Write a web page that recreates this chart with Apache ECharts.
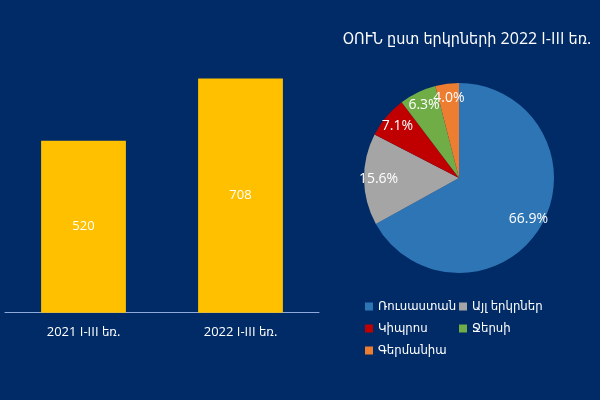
<!DOCTYPE html>
<html><head><meta charset="utf-8">
<script src="https://cdn.jsdelivr.net/npm/echarts@6/dist/echarts.min.js"></script>
<style>html,body{margin:0;padding:0;background:#002b66;}#c{width:600px;height:400px;}</style>
</head><body><div id="c"></div>
<script>
var barCategories = ['2021 I-III եռ.', '2022 I-III եռ.'];
var barValues = [520, 708];
var pieTitle = 'ՕՈՒՆ ըստ երկրների 2022 I-III եռ.';
var pieNames = ['Ռուսաստան', 'Այլ երկրներ', 'Կիպրոս', 'Ջերսի', 'Գերմանիա'];
var pieValues = [66.9, 15.6, 7.1, 6.3, 4.0];
var pieColors = ['#2e75b6', '#a5a5a5', '#c00000', '#70ad47', '#ed7d31'];

var FONT = '"Open Sans", "DejaVu Sans Condensed", "DejaVu Sans", sans-serif';
var pieData = pieNames.map(function (n, i) { return { name: n, value: pieValues[i], itemStyle: { color: pieColors[i] } }; });
var labelData = pieNames.map(function (n, i) { return { name: n, value: pieValues[i] }; });

var chart = echarts.init(document.getElementById('c'));
chart.setOption({
  backgroundColor: '#002b66',
  animation: false,
  title: {
    text: pieTitle, left: 462, top: 26, textAlign: 'center',
    textStyle: { color: '#ffffff', fontSize: 16, fontWeight: 'normal', fontFamily: FONT }
  },
  legend: [
    { data: [pieNames[0], pieNames[2], pieNames[4]], orient: 'vertical', left: 360, top: 295, itemWidth: 8, itemHeight: 8, itemGap: 9, icon: 'rect',
      textStyle: { color: '#ffffff', fontSize: 13, fontFamily: FONT } },
    { data: [pieNames[1], pieNames[3]], orient: 'vertical', left: 454, top: 295, itemWidth: 8, itemHeight: 8, itemGap: 9, icon: 'rect',
      textStyle: { color: '#ffffff', fontSize: 13, fontFamily: FONT } }
  ],
  grid: { left: 5, right: 281, top: 48, bottom: 87.3, containLabel: false },
  xAxis: {
    type: 'category', data: barCategories,
    axisLine: { lineStyle: { color: '#8ea9db', width: 1 } },
    axisTick: { show: false },
    axisLabel: { color: '#ffffff', fontSize: 13, fontFamily: FONT, margin: 13 }
  },
  yAxis: { type: 'value', min: 0, max: 800, show: false, splitLine: { show: false } },
  series: [
    { type: 'bar', data: barValues, barWidth: '54%', itemStyle: { color: '#ffc000' },
      label: { show: true, position: 'inside', color: '#ffffff', fontSize: 13, fontFamily: FONT } },
    { type: 'pie', center: [459, 178], radius: [0, 95], data: pieData, startAngle: 90, clockwise: true,
      label: { show: false }, labelLine: { show: false }, itemStyle: { borderWidth: 0 } },
    { type: 'pie', center: [459, 178], radius: [60, 95], data: labelData, startAngle: 90, clockwise: true, silent: true,
      avoidLabelOverlap: false, minShowLabelAngle: 0,
      itemStyle: { color: 'rgba(0,0,0,0)' }, legendHoverLink: false,
      label: { show: true, position: 'inside', color: '#ffffff', fontSize: 14, fontFamily: FONT, overflow: 'none',
        formatter: function (p) { return p.value.toFixed(1) + '%'; } },
      labelLayout: { hideOverlap: false },
      labelLine: { show: false } }
  ]
});
</script></body></html>
